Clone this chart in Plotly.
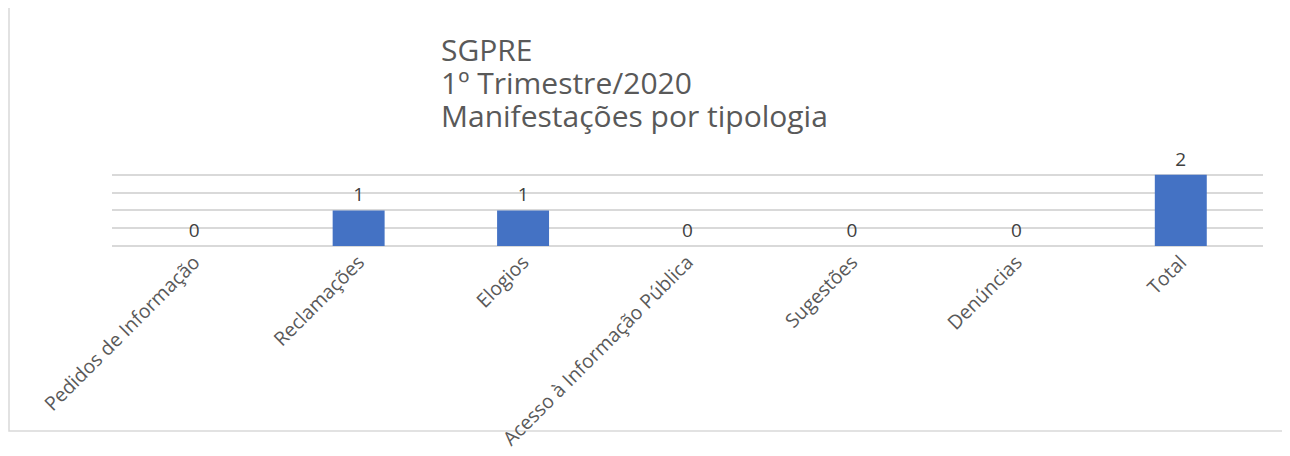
import plotly.graph_objects as go

categories = ["Pedidos de Informação", "Reclamações", "Elogios",
              "Acesso à Informação Pública", "Sugestões", "Denúncias", "Total"]
values = [0, 1, 1, 0, 0, 0, 2]
title_lines = ["SGPRE", "1º Trimestre/2020", "Manifestações por tipologia"]

OFF = 8  # page body margin
W, H = 1290 - OFF, 456 - OFF
L, T = 112 - OFF, 157 - OFF
R = W - (1263 - OFF)
B = H - (246 - OFF)
pw, ph = W - L - R, H - T - B

def px_x(x):
    return (x - OFF - L) / pw

def px_y(y):
    return (H - B - (y - OFF)) / ph

fig = go.Figure(go.Bar(
    x=categories, y=values,
    marker=dict(color="#4472c4", line=dict(width=0)),
    text=[str(v) for v in values], textposition="outside",
    textfont=dict(size=19, color="#404040", family="Open Sans"),
    cliponaxis=False,
))

title_text = "<br>".join(f'<span style="font-size:30px">{t}</span>' for t in title_lines)

fig.update_layout(
    width=W, height=H,
    margin=dict(l=L, r=R, t=T, b=B, autoexpand=False),
    paper_bgcolor="white", plot_bgcolor="white",
    bargap=0.684,
    showlegend=False,
    annotations=[dict(text=title_text, xref="paper", yref="paper",
                      x=px_x(440), y=px_y(82), xanchor="left", yanchor="middle",
                      align="left", showarrow=False, borderpad=0,
                      font=dict(family="Open Sans", size=25.4, color="#595959"))],
    xaxis=dict(tickangle=-45, showgrid=False, showline=False, ticks="",
               automargin=False,
               tickfont=dict(family="Open Sans", size=19.5, color="#595959")),
    yaxis=dict(range=[0, 2.5], dtick=0.5, showticklabels=False, automargin=False,
               gridcolor="#d9d9d9", gridwidth=1.5, zeroline=True,
               zerolinecolor="#d9d9d9", zerolinewidth=1.5),
    shapes=[dict(type="rect", xref="paper", yref="paper",
                 x0=px_x(9), x1=px_x(1288), y0=px_y(431), y1=px_y(6),
                 line=dict(color="#d9d9d9", width=1.5), layer="below")],
)

fig.write_html("out.html")
